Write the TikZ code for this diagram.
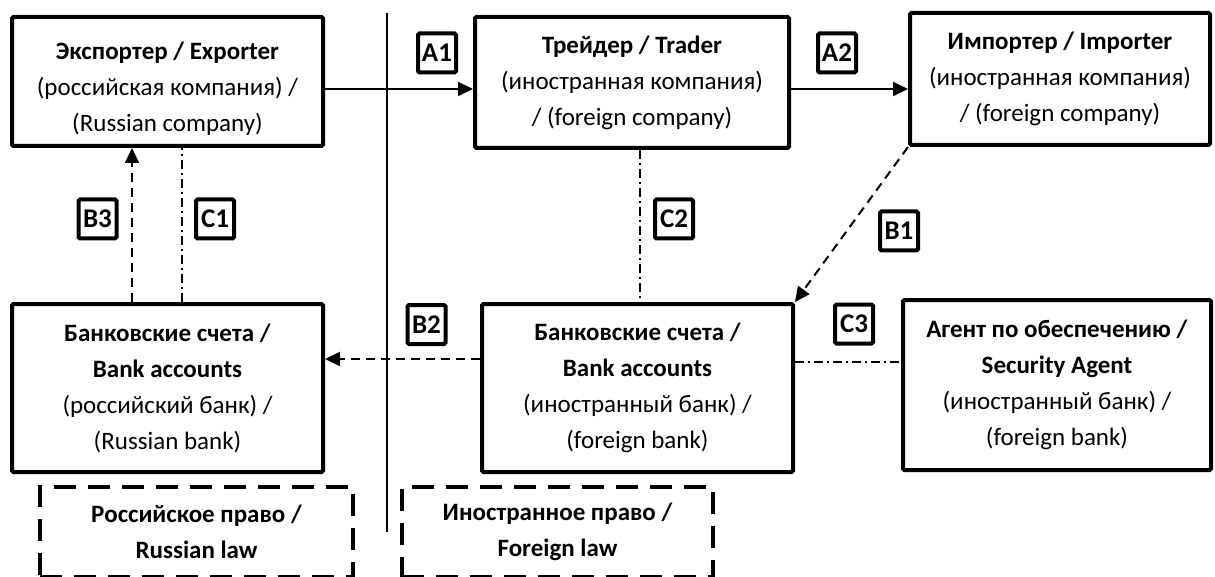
\documentclass[tikz,border=0pt]{standalone}
\usepackage{fontspec}
\setmainfont{Carlito}
\usetikzlibrary{arrows.meta,calc}
\begin{document}
\begin{tikzpicture}[x=1pt,y=-1pt,
 box/.style={draw, line width=4, rounded corners=1.5, align=center, font=\fontsize{25}{36}\selectfont, inner sep=0},
 lawbox/.style={draw, line width=4, dash pattern=on 22 off 12, align=center, font=\fontsize{25}{36}\selectfont\bfseries, inner sep=0},
 lbl/.style={draw, line width=4, rounded corners=1.5, minimum width=38, minimum height=39, font=\fontsize{27}{27}\selectfont\bfseries, inner sep=0},
 flow/.style={line width=2, -{Triangle[length=15,width=14]}},
 pay/.style={flow, dash pattern=on 9 off 6},
 rel/.style={line width=1.6, dash pattern=on 9 off 4 on 2 off 4},
 divider/.style={line width=2}]
\useasboundingbox (0,0) rectangle (1215,577);

% main boxes
\node[box, minimum width=311, minimum height=129] (exp) at (167.5,81.5)
  {\rule{0pt}{32pt}\textbf{Экспортер / Exporter}\\(российская компания) /\\(Russian company)};
\node[box, minimum width=314, minimum height=131] (trd) at (632,82.5)
  {\textbf{Трейдер / Trader}\\(иностранная компания)\\/ (foreign company)};
\node[box, minimum width=300, minimum height=132] (imp) at (1060,79)
  {\textbf{Импортер / Importer}\\(иностранная компания)\\/ (foreign company)};
\node[box, minimum width=311, minimum height=168] (rub) at (167.5,388)
  {\textbf{Банковские счета /}\\\textbf{Bank accounts}\\(российский банк) /\\(Russian bank)};
\node[box, minimum width=311, minimum height=168] (frb) at (637.5,388)
  {\textbf{Банковские счета /}\\\textbf{Bank accounts}\\(иностранный банк) /\\(foreign bank)};
\node[box, minimum width=308, minimum height=170] (agt) at (1057,385)
  {\textbf{Агент по обеспечению /}\\\textbf{Security Agent}\\(иностранный банк) /\\(foreign bank)};

% law boxes
\node[lawbox, minimum width=313, minimum height=90] (rul) at (196.5,532)
  {Российское право /\\Russian law};
\node[lawbox, minimum width=311, minimum height=90] (frl) at (557.5,532)
  {Иностранное право /\\Foreign law};

% divider
\coordinate (dtop) at (387,13);
\coordinate (dbot) at (387,532);
\draw[divider] (dtop) -- (dbot);

% labels
\node[lbl] (la1) at (437,53) {A1};
\node[lbl] (la2) at (837,53) {A2};
\node[lbl] (lb3) at (97.5,219) {B3};
\node[lbl] (lc1) at (215,219) {C1};
\node[lbl] (lc2) at (674,219) {C2};
\node[lbl] (lb1) at (899,231) {B1};
\node[lbl] (lb2) at (426.5,324.5) {B2};
\node[lbl] (lc3) at (854,324) {C3};

% connectors
\draw[flow] (exp.east |- 0,89) -- (trd.west |- 0,89);
\draw[flow] (trd.east |- 0,89) -- (imp.west |- 0,89);
\draw[pay] (imp.south west) -- (frb.north east);
\draw[pay] (frb.west |- 0,359) -- (rub.east |- 0,359);
\draw[pay] (rub.north -| 132,0) -- (exp.south -| 132,0);
\draw[rel] (rub.north -| 182,0) -- (exp.south -| 182,0);
\draw[rel] (trd.south -| 640,0) -- (frb.north -| 640,0);
\draw[rel] (frb.east |- 0,362) -- (agt.west |- 0,362);
\end{tikzpicture}
\end{document}
